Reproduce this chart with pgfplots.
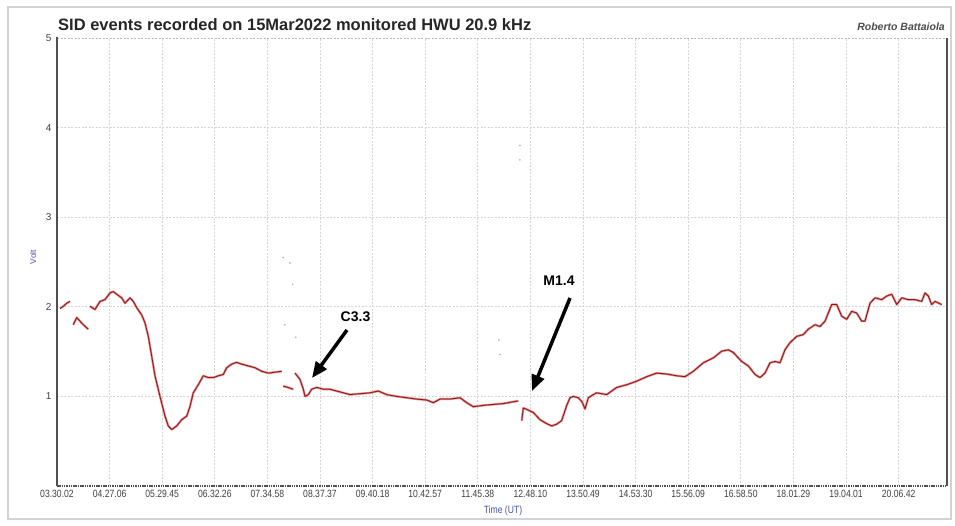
\documentclass[border=0pt]{standalone}
\usepackage{pgfplots}
\usepackage{pgfplotstable}
\pgfplotsset{compat=1.18}
\usetikzlibrary{arrows.meta}
\usepackage{fontspec}
\setmainfont{Liberation Sans}
\newfontfamily\narrowfont[FakeStretch=0.82]{Liberation Sans}
\definecolor{halo}{RGB}{236,130,130}
\definecolor{core}{RGB}{130,25,25}
\definecolor{lblue}{RGB}{70,85,170}
\definecolor{gridc}{RGB}{212,212,212}
\definecolor{axc}{RGB}{80,80,80}

% x: tick-interval units (one unit = one labelled grid step), y: Volt
\pgfplotstableread{
k v
0.057 1.98
0.120 2.006
0.184 2.04
0.247 2.06
nan nan
0.310 1.80
0.375 1.88
0.437 1.84
0.500 1.80
0.595 1.75
nan nan
0.627 2.006
0.722 1.97
0.817 2.06
0.913 2.08
1.008 2.155
1.070 2.17
1.135 2.14
1.230 2.10
1.293 2.04
1.388 2.10
1.451 2.06
1.515 1.99
1.610 1.91
1.673 1.82
1.736 1.67
1.800 1.45
1.863 1.23
1.958 1.00
2.053 0.78
2.116 0.67
2.181 0.63
2.276 0.67
2.371 0.74
2.466 0.78
2.529 0.89
2.591 1.04
2.686 1.13
2.781 1.23
2.876 1.21
2.971 1.21
3.067 1.23
3.162 1.245
3.226 1.32
3.321 1.36
3.416 1.38
3.511 1.36
3.637 1.34
3.764 1.32
3.892 1.28
4.017 1.26
4.144 1.27
4.272 1.28
nan nan
4.302 1.115
4.392 1.10
4.492 1.08
nan nan
4.525 1.26
4.620 1.19
4.683 1.08
4.715 1.00
4.778 1.02
4.842 1.08
4.937 1.10
5.063 1.08
5.190 1.08
5.380 1.05
5.570 1.02
5.760 1.03
5.951 1.04
6.108 1.06
6.268 1.02
6.458 1.00
6.648 0.985
6.838 0.97
7.029 0.96
7.154 0.93
7.281 0.97
7.471 0.97
7.662 0.985
7.789 0.93
7.914 0.885
8.105 0.90
8.295 0.91
8.485 0.92
8.675 0.94
8.770 0.95
nan nan
8.835 0.73
8.865 0.87
8.930 0.855
9.055 0.82
9.183 0.74
9.297 0.70
9.405 0.67
9.500 0.69
9.595 0.73
9.690 0.90
9.753 0.985
9.816 1.00
9.911 0.985
9.981 0.94
10.038 0.86
10.101 0.985
10.196 1.02
10.260 1.04
10.450 1.02
10.640 1.10
10.831 1.13
11.021 1.17
11.211 1.22
11.401 1.26
11.591 1.25
11.781 1.23
11.939 1.22
12.097 1.28
12.287 1.375
12.477 1.43
12.637 1.505
12.762 1.52
12.857 1.49
13.017 1.39
13.143 1.34
13.270 1.245
13.365 1.21
13.460 1.26
13.555 1.375
13.650 1.39
13.745 1.375
13.840 1.52
13.935 1.60
14.063 1.67
14.188 1.69
14.283 1.75
14.411 1.80
14.506 1.78
14.601 1.84
14.663 1.93
14.728 2.025
14.823 2.025
14.918 1.895
15.013 1.86
15.108 1.95
15.203 1.93
15.298 1.84
15.361 1.84
15.456 2.04
15.551 2.10
15.679 2.08
15.774 2.12
15.869 2.14
15.964 2.025
16.059 2.10
16.184 2.08
16.312 2.08
16.439 2.06
16.502 2.155
16.565 2.12
16.629 2.025
16.692 2.06
16.819 2.025
}\sid

\pgfplotstableread{
k v
4.30 2.55
4.43 2.49
4.33 1.80
4.48 2.25
4.54 1.66
8.40 1.63
8.42 1.47
8.80 3.80
8.80 3.64
}\strays

\begin{document}
\begin{tikzpicture}
\useasboundingbox (0,0) rectangle (955pt,525pt);
\draw[gray!35, line width=1.5pt] (8pt,6pt) rectangle (951pt,518pt);
\begin{axis}[
  at={(57pt,39pt)}, anchor=south west,
  scale only axis, width=890pt, height=448pt,
  xmin=0, xmax=16.92, ymin=0, ymax=5,
  axis line style={draw=none},
  major tick length=0pt,
  xtick={0,...,16},
  xticklabels={03.30.02,04.27.06,05.29.45,06.32.26,07.34.58,08.37.37,09.40.18,10.42.57,11.45.38,12.48.10,13.50.49,14.53.30,15.56.09,16.58.50,18.01.29,19.04.01,20.06.42},
  ytick={1,2,3,4,5},
  /pgf/number format/assume math mode=true,
  xticklabel style={font=\narrowfont\fontsize{10.5}{12}\selectfont, text=black!75, yshift=-1pt},
  yticklabel style={font=\fontsize{10}{12}\selectfont, text=black!75, xshift=-2pt},
  grid=major,
  grid style={gridc, dash pattern=on 2pt off 1.5pt, line width=0.8pt},
  unbounded coords=jump,
  clip=false,
]
\addplot[halo, line width=2.2pt, line join=round] table[x=k,y=v] {\sid};
\addplot[core, line width=0.8pt, line join=round] table[x=k,y=v] {\sid};
\addplot[only marks, mark=*, mark size=0.6pt, gray!60] table[x=k,y=v] {\strays};
\draw[gray!55, dash pattern=on 2pt off 1.5pt, line width=0.8pt] (rel axis cs:0,1) -- (rel axis cs:1,1);
\draw[axc, line width=1.6pt] (rel axis cs:1,0) -- (rel axis cs:1,1);
\draw[axc, line width=2.2pt, dash pattern=on 1.5pt off 0.8pt] (rel axis cs:0,0) -- (rel axis cs:1,0);
\draw[axc, line width=2.2pt] (rel axis cs:0,0) -- (rel axis cs:0,1.003);
\end{axis}
\node[anchor=base west, font=\bfseries\fontsize{16.5}{19}\selectfont, text=black!85, inner sep=0pt] at (58pt,494.5pt) {SID events recorded on 15Mar2022 monitored HWU 20.9 kHz};
\node[anchor=base east, font=\bfseries\itshape\fontsize{10.5}{12}\selectfont, text=black!70, inner sep=0pt] at (945pt,494pt) {Roberto Battaiola};
\node[rotate=90, font=\fontsize{8.5}{10}\selectfont, text=lblue, inner sep=0pt] at (33pt,268pt) {Volt};
\node[font=\narrowfont\fontsize{10.5}{12}\selectfont, text=lblue, inner sep=0pt] at (503pt,14pt) {Time (UT)};
\node[font=\bfseries\fontsize{14}{16}\selectfont, inner sep=0pt] at (355.5pt,208pt) {C3.3};
\node[font=\bfseries\fontsize{14}{16}\selectfont, inner sep=0pt] at (559pt,244pt) {M1.4};
\draw[line width=3.5pt, -{Triangle[length=16pt,width=13pt]}] (347pt,195pt) -- (312pt,147pt);
\draw[line width=3.5pt, -{Triangle[length=16pt,width=13pt]}] (570pt,227pt) -- (532pt,134pt);
\end{tikzpicture}
\end{document}
